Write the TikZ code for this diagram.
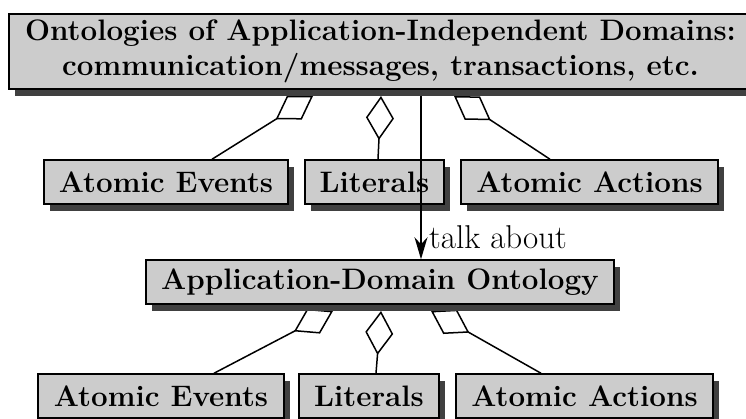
\documentclass[tikz,border=0pt]{standalone}
\usetikzlibrary{arrows.meta,shadows,backgrounds}
\definecolor{boxgray}{HTML}{CCCCCC}
\definecolor{shadowgray}{HTML}{404040}
\tikzset{
  box/.style={draw, line width=1.5pt, fill=boxgray, inner sep=0pt, align=center,
    font=\fontsize{29.6}{35}\selectfont\bfseries,
    drop shadow={shadow xshift=6pt, shadow yshift=-7pt, fill=shadowgray, opacity=1}},
  agg/.style={line width=1.5pt, {Diamond[length=44pt,width=28pt,fill=white]}-},
  talk/.style={line width=1.4pt, -{Stealth[length=22pt,width=13pt,inset=7pt]}},
  lbl/.style={font=\fontsize{33}{38}\selectfont, inner sep=0pt},
}
\begin{document}
\begin{tikzpicture}[x=1pt,y=-1pt]
\useasboundingbox (0,0) rectangle (746,419);
% boxes
\node[box, minimum width=743pt, minimum height=75pt] (top) at (380.5,51.5)
  {Ontologies of Application-Independent Domains:\\ communication/messages, transactions, etc.};
\node[box, minimum width=244pt, minimum height=44pt] (ae1) at (166,182) {Atomic Events};
\node[box, minimum width=139pt, minimum height=44pt] (lit1) at (374.5,182) {Literals};
\node[box, minimum width=257pt, minimum height=44pt] (aa1) at (589.5,182) {Atomic Actions};
\node[box, minimum width=468pt, minimum height=44pt] (ado) at (380,282) {Application-Domain Ontology};
\node[box, minimum width=246pt, minimum height=44pt] (ae2) at (161,396) {Atomic Events};
\node[box, minimum width=140pt, minimum height=44pt] (lit2) at (369,396) {Literals};
\node[box, minimum width=257pt, minimum height=44pt] (aa2) at (584.5,396) {Atomic Actions};
% aggregation tips
\coordinate (t1) at (313,96);
\coordinate (t2) at (381,96);
\coordinate (t3) at (454,96);
\coordinate (b1) at (333,311);
\coordinate (b2) at (381,311);
\coordinate (b3) at (431,311);
\begin{scope}[on background layer]
\draw[agg] (t1) -- ([xshift=46pt]ae1.north);
\draw[agg] (t2) -- ([xshift=3.5pt]lit1.north);
\draw[agg] (t3) -- ([xshift=-39.5pt]aa1.north);
\draw[agg] (b1) -- ([xshift=53pt]ae2.north);
\draw[agg] (b2) -- ([xshift=7pt]lit2.north);
\draw[agg] (b3) -- ([xshift=-43.5pt]aa2.north);
\end{scope}
% talk about
\coordinate (ts) at (421,96);
\draw[talk] (ts) -- (ts |- ado.north);
\node[lbl, anchor=west] (ta) at (429,237) {talk about};
\end{tikzpicture}
\end{document}
